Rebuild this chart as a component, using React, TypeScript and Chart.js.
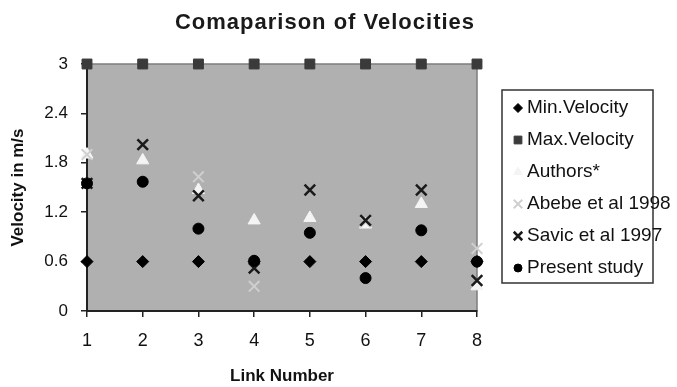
import React, { useEffect, useRef } from "react";
import { Chart, registerables } from "chart.js";
import { drawPoint } from "chart.js/helpers";

Chart.register(...registerables);

const linkNumbers = [1, 2, 3, 4, 5, 6, 7, 8];
const yTickValues = [0, 0.6, 1.2, 1.8, 2.4, 3];
const minVelocity = [0.6, 0.6, 0.6, 0.6, 0.6, 0.6, 0.6, 0.6];
const maxVelocity = [3, 3, 3, 3, 3, 3, 3, 3];
const authors = [1.9, 1.83, 1.47, 1.1, 1.13, 1.05, 1.3, 0.3];
const abebe1998 = [1.9, null, 1.63, 0.3, null, 1.08, null, 0.76];
const savic1997 = [1.55, 2.02, 1.4, 0.52, 1.47, 1.1, 1.47, 0.37];
const presentStudy = [1.55, 1.57, 1.0, 0.61, 0.95, 0.4, 0.98, 0.6];

const titleText = "Comaparison of Velocities";
const FONT = "'Liberation Sans', Arial, sans-serif";

const toPoints = (vals: (number | null)[]) =>
  linkNumbers.map((x, i) => ({ x, y: vals[i] }));

export default function App() {
  const ref = useRef<HTMLCanvasElement | null>(null);

  useEffect(() => {
    if (!ref.current) return;

    const bgPlugin = {
      id: "plotBg",
      beforeDraw(chart: any) {
        const { ctx, chartArea: a } = chart;
        ctx.save();
        ctx.fillStyle = "#b0b0b0";
        ctx.fillRect(a.left, a.top, a.right - a.left, a.bottom - a.top);
        ctx.strokeStyle = "#7d7d7d";
        ctx.lineWidth = 1.5;
        ctx.strokeRect(a.left, a.top, a.right - a.left, a.bottom - a.top);
        ctx.restore();
      },
    };

    const titleLegendPlugin = {
      id: "titleLegend",
      afterDraw(chart: any) {
        const { ctx, chartArea: a } = chart;
        ctx.save();
        ctx.font = `bold 22px ${FONT}`;
        ctx.fillStyle = "#1a1a1a";
        ctx.textAlign = "center";
        ctx.textBaseline = "middle";
        try {
          (ctx as any).letterSpacing = "1px";
        } catch (e) {}
        ctx.fillText(titleText, a.left + 238, 23);
        try {
          (ctx as any).letterSpacing = "0px";
        } catch (e) {}

        const boxL = a.right + 25;
        const boxT = 90;
        ctx.strokeStyle = "#333";
        ctx.lineWidth = 1.5;
        ctx.strokeRect(boxL, boxT, 151, 193);
        ctx.font = `19px ${FONT}`;
        ctx.textAlign = "left";
        chart.data.datasets.forEach((ds: any, i: number) => {
          const y = boxT + 18 + i * 32;
          ctx.fillStyle = ds.pointBackgroundColor;
          ctx.strokeStyle = ds.pointBorderColor;
          ctx.lineWidth = ds.pointBorderWidth;
          drawPoint(
            ctx,
            { pointStyle: ds.pointStyle, radius: ds.legendRadius, borderWidth: ds.pointBorderWidth, rotation: 0 },
            boxL + 16,
            y
          );
          ctx.fillStyle = "#111";
          ctx.fillText(ds.label, boxL + 25, y);
        });
        ctx.restore();
      },
    };

    const mk = (
      label: string,
      vals: (number | null)[],
      style: string,
      fill: string,
      stroke: string,
      radius: number,
      bw: number,
      legendRadius: number,
      order: number
    ) => ({
      label,
      data: toPoints(vals),
      pointStyle: style,
      pointBackgroundColor: fill,
      pointBorderColor: stroke,
      backgroundColor: fill,
      borderColor: stroke,
      pointRadius: radius,
      pointBorderWidth: bw,
      showLine: false,
      clip: false,
      order,
      legendRadius,
    });

    const chart = new Chart(ref.current, {
      type: "scatter",
      data: {
        datasets: [
          mk("Min.Velocity", minVelocity, "rectRot", "#000", "#000", 6, 1, 4.5, 5),
          mk("Max.Velocity", maxVelocity, "rect", "#3a3a3a", "#3a3a3a", 7, 1, 5.5, 4),
          mk("Authors*", authors, "triangle", "#f4f4f4", "#f4f4f4", 7, 1, 5, 3),
          mk("Abebe et al 1998", abebe1998, "crossRot", "#cfcfcf", "#cfcfcf", 7.5, 2, 6, 2),
          mk("Savic et al 1997", savic1997, "crossRot", "#1a1a1a", "#1a1a1a", 7.5, 2.5, 6, 1),
          mk("Present study", presentStudy, "circle", "#000", "#000", 5.5, 1, 4, 0),
        ] as any,
      },
      options: {
        animation: false,
        responsive: true,
        maintainAspectRatio: false,
        layout: { padding: { top: 64, right: 200, left: 0, bottom: 0 } },
        plugins: {
          legend: { display: false },
          title: { display: false },
          tooltip: { enabled: false },
        },
        scales: {
          x: {
            type: "linear",
            min: 1,
            max: 8,
            afterBuildTicks: (s: any) => {
              s.ticks = linkNumbers.map((v) => ({ value: v }));
            },
            afterFit: (s: any) => {
              s.height = 76;
            },
            ticks: {
              color: "#111",
              font: { family: FONT, size: 18 },
              padding: 13,
              callback: (v: any) => String(v),
            },
            grid: { drawOnChartArea: false, tickLength: 6, color: "#222", lineWidth: 1.5 },
            border: { display: true, color: "#222", width: 2 },
            title: {
              display: true,
              text: "Link Number",
              color: "#111",
              font: { family: FONT, size: 17, weight: "bold" },
              padding: { top: 0, bottom: 0 },
            },
          },
          y: {
            min: 0,
            max: 3,
            afterBuildTicks: (s: any) => {
              s.ticks = yTickValues.map((v) => ({ value: v }));
            },
            afterFit: (s: any) => {
              s.width = 87;
            },
            ticks: {
              color: "#111",
              font: { family: FONT, size: 17 },
              padding: 13,
              callback: (v: any) => String(Number(Number(v).toFixed(1))),
            },
            grid: { drawOnChartArea: false, tickLength: 6, color: "#222", lineWidth: 1.5 },
            border: { display: true, color: "#222", width: 2 },
            title: {
              display: true,
              text: "Velocity in m/s",
              color: "#111",
              font: { family: FONT, size: 17, weight: "bold" },
              padding: { top: 8, bottom: 0 },
            },
          },
        },
      } as any,
      plugins: [bgPlugin, titleLegendPlugin],
    });

    return () => chart.destroy();
  }, []);

  return (
    <div style={{ position: "absolute", left: 0, top: 0, width: 677, height: 387, background: "#fff" }}>
      <canvas ref={ref} />
    </div>
  );
}
